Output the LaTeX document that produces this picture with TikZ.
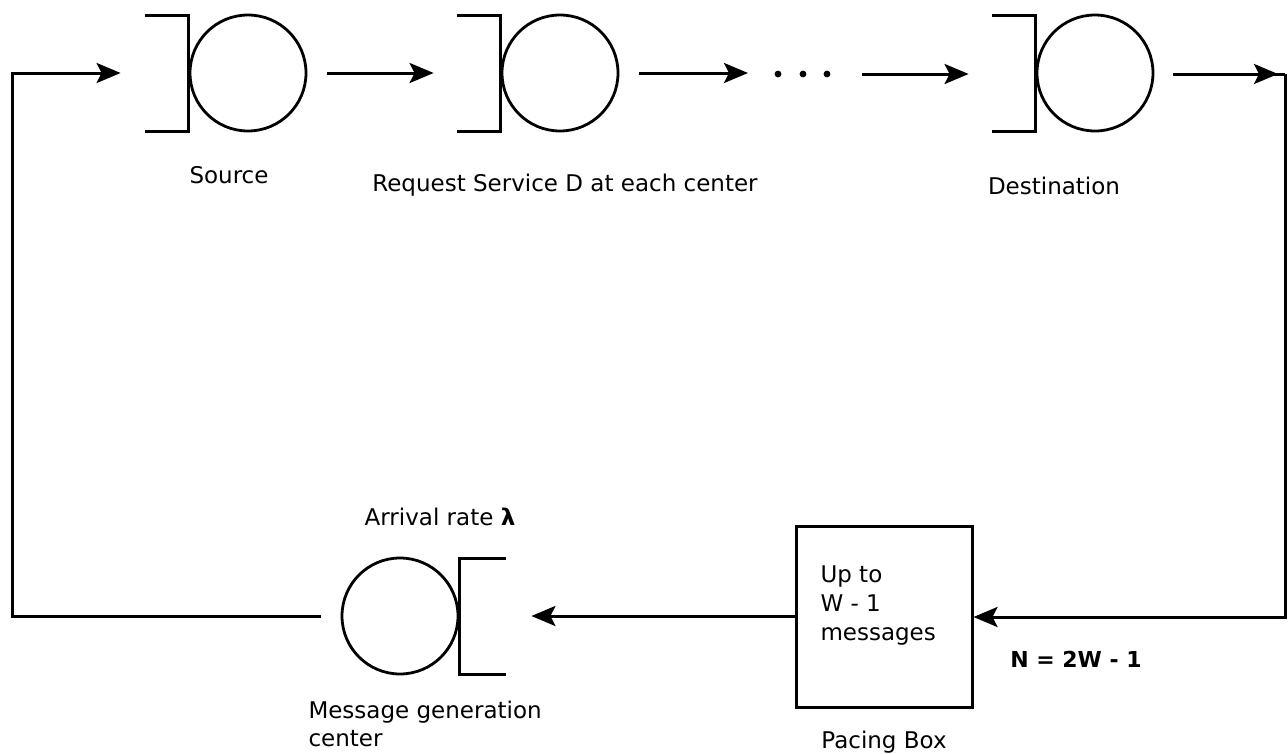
\documentclass[tikz,border=0pt]{standalone}
\usepackage{fontspec}
\setmainfont{DejaVu Sans}
\usetikzlibrary{arrows.meta,calc}
\begin{document}
\begin{tikzpicture}[x=1pt,y=-1pt, line width=3pt,
  srv/.style={circle, draw, line width=2.8pt, minimum size=116pt, inner sep=0pt},
  pacebox/.style={draw, minimum width=176pt, minimum height=181pt, inner sep=0pt},
  arr/.style={-{Stealth[length=24pt,width=20pt,inset=5pt]}},
  lbl/.style={font=\fontsize{23}{27}\selectfont, inner sep=0pt},
]
\useasboundingbox (0,0) rectangle (1288,753);
% service centres
\node[srv] (src) at (248,73) {};
\node[srv] (mid) at (560,73) {};
\node[srv] (dst) at (1095,73) {};
\node[srv] (mgc) at (400,616) {};
\node[pacebox] (pace) at (884,617) {};
% queue brackets
\foreach \n in {src,mid,dst}
  \draw ($(\n.west)+(-44,-58)$) -- ($(\n.west)+(0,-58)$) -- ($(\n.west)+(0,58)$) -- ($(\n.west)+(-44,58)$);
\draw ($(mgc.east)+(47,-58)$) -- ($(mgc.east)+(0,-58)$) -- ($(mgc.east)+(0,58)$) -- ($(mgc.east)+(47,58)$);
% dots
\coordinate (dots) at (803,74);
\foreach \dx in {-25,0,24} \fill ([xshift=\dx pt]dots) circle (3.4pt);
\coordinate (ne) at (1285,74);
\coordinate (nw) at (12,73);
% connectors
\draw[arr] ([xshift=20pt]src.east) -- ([xshift=-67pt]mid.west);
\draw[arr] ([xshift=20pt]mid.east) -- ([xshift=-55pt,yshift=1pt]dots);
\draw[arr] ([xshift=59pt]dots) -- ([xshift=-67pt,yshift=-1pt]dst.west);
\draw[arr] ([xshift=19pt,yshift=-1pt]dst.east) -- ([xshift=-7pt]ne);
\draw ([xshift=19pt,yshift=-1pt]dst.east) -- (ne);
\draw[arr] (ne) |- (pace.east);
\draw[arr] ([yshift=1pt]pace.west) -- ([xshift=72pt]mgc.east);
\draw[arr] ([xshift=-20pt]mgc.west) -| (nw) -- ([xshift=-68pt]src.west);
% labels
\node[lbl, anchor=base] (lsrc) at (229,183) {Source};
\node[lbl, anchor=base] (lmid) at (565,191) {Request Service D at each center};
\node[lbl, anchor=base] (ldst) at (1054,194) {Destination};
\node[lbl, anchor=base] (larr) at (440,525) {Arrival rate {\bfseries λ}};
\node[lbl, anchor=north west, align=left, font=\fontsize{23}{28}\selectfont] (lmgc) at (307,700) {Message generation\\center};
\node[lbl, anchor=north west, align=left, font=\fontsize{23}{29}\selectfont] (lpin) at (819,564) {Up to\\W - 1\\messages};
\node[lbl, anchor=base, font=\fontsize{22}{26}\selectfont\bfseries] (lN) at (1076,667) {N = 2W - 1};
\node[lbl, anchor=base] (lpace) at (884,748) {Pacing Box};
\end{tikzpicture}
\end{document}
